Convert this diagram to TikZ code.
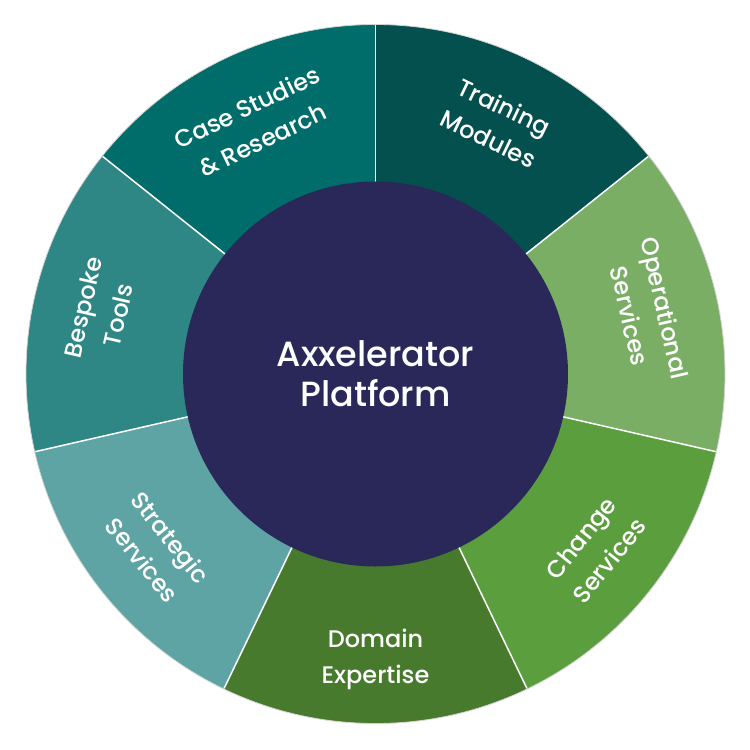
\documentclass[tikz,border=0pt]{standalone}
\usepackage{fontspec}
\setmainfont{Poppins}[UprightFont=* Medium]
\definecolor{cTrain}{HTML}{04504F}
\definecolor{cCase}{HTML}{006D6B}
\definecolor{cBespoke}{HTML}{2E8784}
\definecolor{cStrat}{HTML}{5FA4A4}
\definecolor{cDomain}{HTML}{487A2E}
\definecolor{cChange}{HTML}{5A9E3D}
\definecolor{cOper}{HTML}{7AAE64}
\definecolor{cCenter}{HTML}{2A2859}
\begin{document}
\begin{tikzpicture}[x=1pt,y=1pt,
  seglabel/.style={text=white, align=center, font=\fontsize{24}{36}\selectfont},
  sep/.style={draw=white, line width=1.5pt}]
\useasboundingbox (-375.5,-376) rectangle (374.5,374);
\def\Ro{349.5}
\def\Ri{192.5}
% sectors
\foreach \a/\c in {38.571/cTrain, 90/cCase, 141.429/cBespoke, 192.857/cStrat, 244.286/cDomain, 295.714/cChange, 347.143/cOper}{
  \fill[\c] (0,0) -- (\a:\Ro) arc[start angle=\a, delta angle=51.43, radius=\Ro] -- cycle;
}
% outer outline
\draw[gray!35, line width=0.8pt] (0,0) circle[radius=\Ro];
% separators
\foreach \a [count=\i] in {38.571, 90, 141.429, 192.857, 244.286, 295.714, 347.143}{
  \coordinate (in\i) at (\a:\Ri-2);
  \coordinate (out\i) at (\a:\Ro-0.6);
  \draw[sep] (in\i) -- (out\i);
}
% centre
\node[circle, fill=cCenter, minimum size=385pt, inner sep=0pt, text=white, align=center,
  font=\fontsize{35}{40}\selectfont] (hub) at (0,0) {Axxelerator\\Platform};
% labels
\node[seglabel, rotate=-25.71] (train) at (64.29:279) {Training\\Modules};
\node[seglabel, rotate=25.71] (case) at (115.71:278) {Case Studies\\\& Research};
\node[seglabel, rotate=77.14] (besp) at (167.14:282) {Bespoke\\Tools};
\node[seglabel, rotate=-51.43] (strat) at (218.57:280) {Strategic\\Services};
\node[seglabel] (dom) at (270:285) {Domain\\Expertise};
\node[seglabel, rotate=51.43] (chg) at (321.43:281) {Change\\Services};
\node[seglabel, rotate=-77.14] (oper) at (12.86:279) {Operational\\Services};
\end{tikzpicture}
\end{document}
